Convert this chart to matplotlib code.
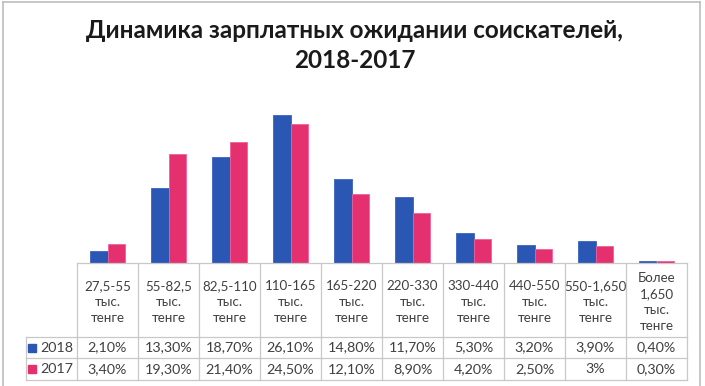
import matplotlib
matplotlib.use("Agg")
from matplotlib import pyplot as plt
from matplotlib import transforms
from matplotlib.lines import Line2D
import numpy as np

categories = ["27,5-55\nтыс.\nтенге", "55-82,5\nтыс.\nтенге", "82,5-110\nтыс.\nтенге",
              "110-165\nтыс.\nтенге", "165-220\nтыс.\nтенге", "220-330\nтыс.\nтенге",
              "330-440\nтыс.\nтенге", "440-550\nтыс.\nтенге", "550-1,650\nтыс.\nтенге",
              "Более\n1,650\nтыс.\nтенге"]
values_2018 = [2.1, 13.3, 18.7, 26.1, 14.8, 11.7, 5.3, 3.2, 3.9, 0.4]
values_2017 = [3.4, 19.3, 21.4, 24.5, 12.1, 8.9, 4.2, 2.5, 3.0, 0.3]
labels_2018 = ["2,10%", "13,30%", "18,70%", "26,10%", "14,80%", "11,70%", "5,30%", "3,20%", "3,90%", "0,40%"]
labels_2017 = ["3,40%", "19,30%", "21,40%", "24,50%", "12,10%", "8,90%", "4,20%", "2,50%", "3%", "0,30%"]
series_names = ["2018", "2017"]

BLUE = "#2A56B4"
PINK = "#E5306F"
GRID = "#C8C8C8"
TXT = "#404040"
W, H = 705, 386

plt.rcParams['font.family'] = ['Lato', 'DejaVu Sans']

fig = plt.figure(figsize=(W / 100, H / 100), dpi=100)
ax = fig.add_axes([77 / W, (H - 263) / H, 610 / W, 170 / H])

x = np.arange(len(categories))
bw = 0.28
ax.bar(x - bw / 2, values_2018, bw, color=BLUE, edgecolor="#3A62C0", linewidth=0.6)
ax.bar(x + bw / 2, values_2017, bw, color=PINK, edgecolor="#F0609A", linewidth=0.6)
ax.set_xlim(-0.5, len(categories) - 0.5)
ax.set_ylim(0, 30)
ax.axis("off")

# table under the bars: x in data units, y in figure pixels from top
def ypx(p):
    return 1 - p / H

tr = transforms.blended_transform_factory(ax.transData, fig.transFigure)
left = -0.5 - 51 / 61
top, r1, r2, bottom = 263, 337, 358, 380
n = len(categories)

lines = [([-0.5, n - 0.5], [top, top]), ([left, n - 0.5], [r1, r1]),
         ([left, n - 0.5], [r2, r2]), ([left, n - 0.5], [bottom, bottom]),
         ([left, left], [r1, bottom])]
for i in range(n + 1):
    lines.append(([i - 0.5, i - 0.5], [top, bottom]))
for xs, ys in lines:
    fig.add_artist(Line2D(xs, [ypx(v) for v in ys], transform=tr, color=GRID, lw=0.9))

fs = 10.3
for i, cat in enumerate(categories):
    ax.text(i, ypx((top + r1) / 2 + 2), cat, transform=tr, ha="center", va="center",
            fontsize=9.6, color=TXT, linespacing=1.38)
    ax.text(i, ypx((r1 + r2) / 2 + 4), labels_2018[i], transform=tr, ha="center",
            va="baseline", fontsize=fs, color=TXT)
    ax.text(i, ypx((r2 + bottom) / 2 + 4), labels_2017[i], transform=tr, ha="center",
            va="baseline", fontsize=fs, color=TXT)

# row headers with colour keys
for yy, name, col in [((r1 + r2) / 2, series_names[0], BLUE), ((r2 + bottom) / 2, series_names[1], PINK)]:
    fig.add_artist(Line2D([32 / W], [ypx(yy)], marker="s", markersize=5.5, color=col,
                          transform=fig.transFigure, linestyle="none"))
    fig.text(40 / W, ypx(yy + 4), name, ha="left", va="baseline", fontsize=fs, color=TXT)

# outer frame
for xs, ys in [([3, 3], [2, 390]), ([3, 700], [2, 2]), ([700, 700], [2, 390])]:
    fig.add_artist(Line2D([v / W for v in xs], [ypx(v) for v in ys],
                          transform=fig.transFigure, color="#BDBDBD", lw=1.2))

fig.text(0.503, ypx(31), "Динамика зарплатных ожидании соискателей,", ha="center", va="center",
         fontsize=17.5, fontweight="bold", color="#1A1A1A")
fig.text(0.503, ypx(61), "2018-2017", ha="center", va="center",
         fontsize=17.5, fontweight="bold", color="#1A1A1A")

fig.savefig("out.png", dpi=100)
